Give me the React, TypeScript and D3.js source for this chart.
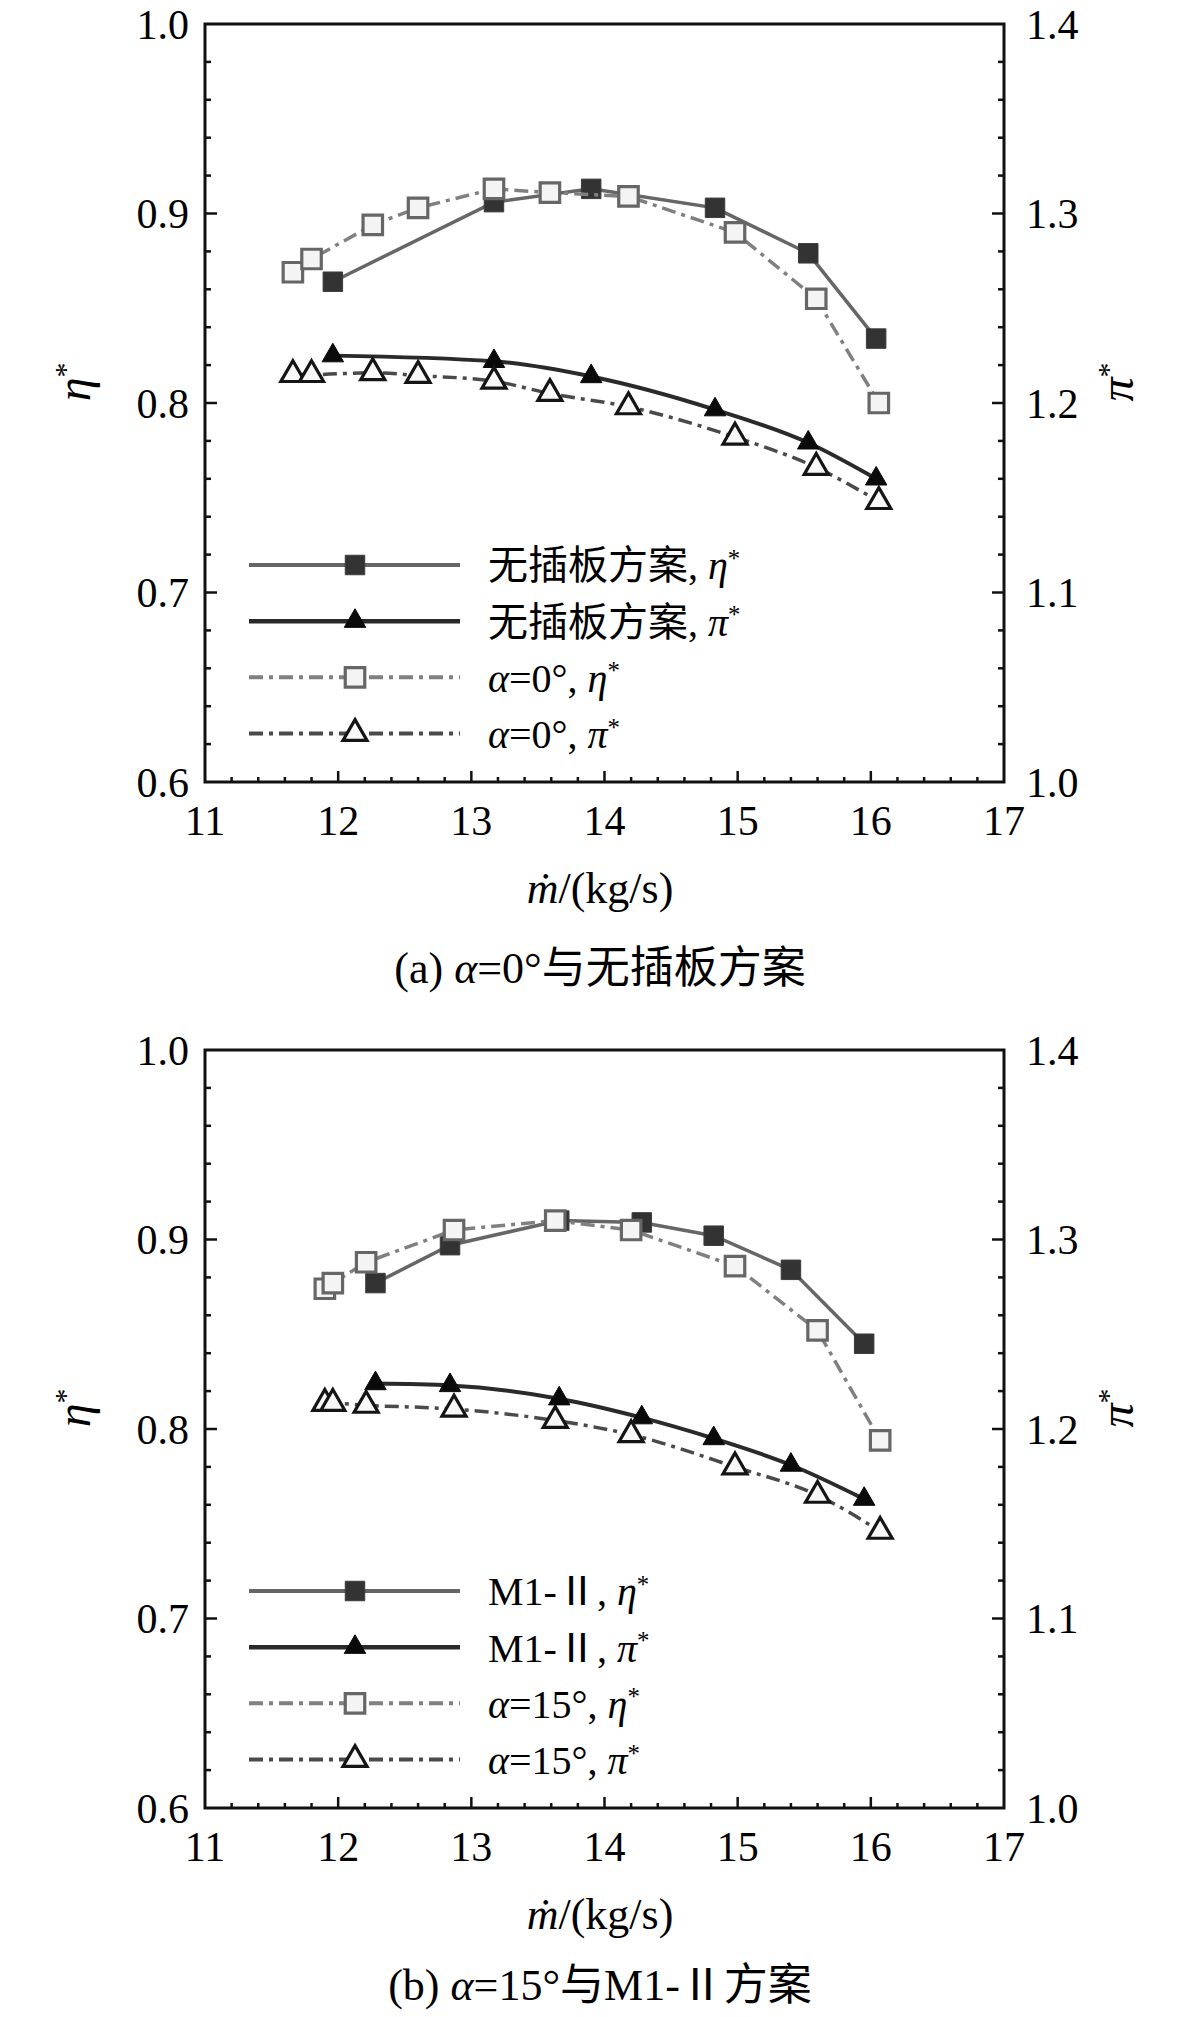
import React, { useEffect, useRef } from 'react';
import * as d3 from 'd3';

// ---- panel (a): alpha = 0 deg vs. no-plate scheme ----
const aBaseX = [11.96, 13.17, 13.9, 14.83, 15.53, 16.04];
const aBaseEta = [0.864, 0.906, 0.913, 0.903, 0.879, 0.834];
const aBasePi = [1.225, 1.222, 1.214, 1.1965, 1.179, 1.16];
const aPlateX = [11.66, 11.8, 12.26, 12.6, 13.17, 13.59, 14.18, 14.98, 15.59, 16.06];
const aPlateEta = [0.869, 0.876, 0.894, 0.903, 0.913, 0.911, 0.909, 0.89, 0.855, 0.8];
const aPlatePi = [1.215, 1.215, 1.216, 1.2145, 1.2115, 1.205, 1.198, 1.182, 1.166, 1.148];
const aLegend = ['无插板方案, η*', '无插板方案, π*', 'α=0°, η*', 'α=0°, π*'];
const aCaption = '(a) α=0°与无插板方案';

// ---- panel (b): alpha = 15 deg vs. M1-II scheme ----
const bBaseX = [12.28, 12.84, 13.66, 14.28, 14.82, 15.4, 15.95];
const bBaseEta = [0.877, 0.897, 0.91, 0.909, 0.902, 0.884, 0.845];
const bBasePi = [1.224, 1.223, 1.216, 1.206, 1.195, 1.181, 1.163];
const bPlateX = [11.9, 11.96, 12.21, 12.87, 13.63, 14.2, 14.98, 15.6, 16.07];
const bPlateEta = [0.874, 0.877, 0.888, 0.905, 0.91, 0.905, 0.886, 0.852, 0.794];
const bPlatePi = [1.2135, 1.2135, 1.2125, 1.2105, 1.2045, 1.197, 1.18, 1.165, 1.146];
const bLegend = ['M1-Ⅱ, η*', 'M1-Ⅱ, π*', 'α=15°, η*', 'α=15°, π*'];
const bCaption = '(b) α=15°与M1-Ⅱ方案';

const xTicks = [11, 12, 13, 14, 15, 16, 17];
const etaTicks = [0.6, 0.7, 0.8, 0.9, 1.0];
const piTicks = [1.0, 1.1, 1.2, 1.3, 1.4];
const xLabel = 'ṁ/(kg/s)';

const FONT = '"Liberation Serif", "Times New Roman", "Noto Sans CJK SC", serif';

type Sel = d3.Selection<SVGTextElement, unknown, null, undefined>;

// split a label into runs: greek letters italic, '*' as superscript
const richText = (t: Sel, s: string) => {
  const runs: { kind: string; str: string }[] = [];
  for (const ch of s) {
    const kind = /[αηπṁ]/.test(ch) ? 'it' : ch === '*' ? 'sup' : 'n';
    if (runs.length && runs[runs.length - 1].kind === kind) runs[runs.length - 1].str += ch;
    else runs.push({ kind, str: ch });
  }
  runs.forEach(r => {
    const ts = t.append('tspan').text(r.str);
    if (r.kind === 'it') ts.attr('font-style', 'italic');
    if (r.kind === 'sup') ts.attr('dy', '-0.5em').attr('font-size', '0.62em');
  });
};

const styles = [
  { stroke: '#666', width: 3.5, dash: null, axis: 'eta', sym: d3.symbolSquare, size: 380, fill: '#333', mStroke: '#3c3c3c', mWidth: 1 },
  { stroke: '#2a2a2a', width: 4, dash: null, axis: 'pi', sym: d3.symbolTriangle, size: 200, fill: '#0a0a0a', mStroke: '#0a0a0a', mWidth: 1 },
  { stroke: '#808080', width: 3.5, dash: '14 6 4 6', axis: 'eta', sym: d3.symbolSquare, size: 380, fill: '#f4f4f4', mStroke: '#666', mWidth: 3.2 },
  { stroke: '#4a4a4a', width: 3.5, dash: '14 6 4 6', axis: 'pi', sym: d3.symbolTriangle, size: 250, fill: '#f8f8f8', mStroke: '#151515', mWidth: 3.2 },
];

const App: React.FC = () => {
  const svgRef = useRef<SVGSVGElement>(null);

  useEffect(() => {
    if (!svgRef.current) return;
    const svg = d3.select(svgRef.current);
    svg.selectAll('*').remove();

    const left = 205;
    const right = 1004;
    const plotH = 758;

    const x = d3.scaleLinear().domain([11, 17]).range([left, right]);

    const drawPanel = (
      top: number,
      series: { xs: number[]; ys: number[] }[],
      legend: string[],
      caption: string,
      captionY: number,
    ) => {
      const g = svg.append('g');
      const bottom = top + plotH;
      const yEta = d3.scaleLinear().domain([0.6, 1.0]).range([bottom, top]);
      const yPi = d3.scaleLinear().domain([1.0, 1.4]).range([bottom, top]);

      // minor / major ticks (inward)
      const xMinor = d3.range(11.2, 16.9, 0.2);
      g.selectAll('.xt')
        .data(xMinor)
        .enter()
        .append('line')
        .attr('x1', d => x(d))
        .attr('x2', d => x(d))
        .attr('y1', bottom)
        .attr('y2', d => bottom - (Math.abs(d - Math.round(d)) < 0.01 ? 11 : 5))
        .attr('stroke', '#111')
        .attr('stroke-width', 2.5);

      const yMinor = d3.range(0.62, 0.99, 0.02);
      const isMajor = (d: number) => Math.abs(d * 10 - Math.round(d * 10)) < 0.01;
      g.selectAll('.yl')
        .data(yMinor)
        .enter()
        .append('line')
        .attr('x1', left)
        .attr('x2', d => left + (isMajor(d) ? 12 : 6))
        .attr('y1', d => yEta(d))
        .attr('y2', d => yEta(d))
        .attr('stroke', '#111')
        .attr('stroke-width', 2.5);
      g.selectAll('.yr')
        .data(yMinor)
        .enter()
        .append('line')
        .attr('x1', right)
        .attr('x2', d => right - (isMajor(d) ? 12 : 6))
        .attr('y1', d => yEta(d))
        .attr('y2', d => yEta(d))
        .attr('stroke', '#111')
        .attr('stroke-width', 2.5);

      // frame
      g.append('rect')
        .attr('x', left)
        .attr('y', top)
        .attr('width', right - left)
        .attr('height', plotH)
        .attr('fill', 'none')
        .attr('stroke', '#111')
        .attr('stroke-width', 3);

      // tick labels
      g.selectAll('.xl')
        .data(xTicks)
        .enter()
        .append('text')
        .attr('x', d => x(d))
        .attr('y', bottom + 53)
        .attr('text-anchor', 'middle')
        .attr('font-family', FONT)
        .attr('font-size', 42)
        .text(d => d);
      g.selectAll('.el')
        .data(etaTicks)
        .enter()
        .append('text')
        .attr('x', left - 16)
        .attr('y', d => yEta(d))
        .attr('dy', '0.35em')
        .attr('text-anchor', 'end')
        .attr('font-family', FONT)
        .attr('font-size', 42)
        .text(d => d3.format('.1f')(d));
      g.selectAll('.pl')
        .data(piTicks)
        .enter()
        .append('text')
        .attr('x', right + 22)
        .attr('y', d => yPi(d))
        .attr('dy', '0.35em')
        .attr('text-anchor', 'start')
        .attr('font-family', FONT)
        .attr('font-size', 42)
        .text(d => d3.format('.1f')(d));

      // axis titles
      const etaT = g
        .append('text')
        .attr('transform', `translate(90,${top + 358}) rotate(-90)`)
        .attr('text-anchor', 'middle')
        .attr('font-family', FONT)
        .attr('font-size', 48);
      richText(etaT, 'η*');
      const piT = g
        .append('text')
        .attr('transform', `translate(1133,${top + 358}) rotate(-90)`)
        .attr('text-anchor', 'middle')
        .attr('font-family', FONT)
        .attr('font-size', 48);
      richText(piT, 'π*');
      const xT = g
        .append('text')
        .attr('x', 600)
        .attr('y', top + 879)
        .attr('text-anchor', 'middle')
        .attr('font-family', FONT)
        .attr('font-size', 44);
      richText(xT, xLabel);
      const capT = g
        .append('text')
        .attr('x', 600)
        .attr('y', captionY)
        .attr('text-anchor', 'middle')
        .attr('font-family', FONT)
        .attr('font-size', 44);
      richText(capT, caption);

      // series
      series.forEach((s, i) => {
        const st = styles[i];
        const yS = st.axis === 'eta' ? yEta : yPi;
        const pts = s.xs.map((v, k) => [v, s.ys[k]] as [number, number]);
        const line = d3
          .line<[number, number]>()
          .x(d => x(d[0]))
          .y(d => yS(d[1]))
          .curve(st.axis === 'pi' ? d3.curveMonotoneX : d3.curveLinear);
        g.append('path')
          .datum(pts)
          .attr('d', line)
          .attr('fill', 'none')
          .attr('stroke', st.stroke)
          .attr('stroke-width', st.width)
          .attr('stroke-dasharray', st.dash);
        g.selectAll(`.m${i}`)
          .data(pts)
          .enter()
          .append('path')
          .attr('d', d3.symbol().type(st.sym).size(st.size)())
          .attr('transform', d => `translate(${x(d[0])},${yS(d[1])})`)
          .attr('fill', st.fill)
          .attr('stroke', st.mStroke)
          .attr('stroke-width', st.mWidth);
      });

      // legend
      const rowY = d3.scaleLinear().domain([0, 3]).range([top + 541, top + 709.5]);
      legend.forEach((lab, i) => {
        const st = styles[i];
        const yy = rowY(i);
        g.append('line')
          .attr('x1', 249)
          .attr('x2', 460)
          .attr('y1', yy)
          .attr('y2', yy)
          .attr('stroke', st.stroke)
          .attr('stroke-width', st.width + 0.5)
          .attr('stroke-dasharray', st.dash);
        g.append('path')
          .attr('d', d3.symbol().type(st.sym).size(st.size)())
          .attr('transform', `translate(355,${yy})`)
          .attr('fill', st.fill)
          .attr('stroke', st.mStroke)
          .attr('stroke-width', st.mWidth);
        const t = g
          .append('text')
          .attr('x', 488)
          .attr('y', yy)
          .attr('dy', '0.36em')
          .attr('font-family', FONT)
          .attr('font-size', 40);
        richText(t, lab);
      });
    };

    drawPanel(
      24,
      [
        { xs: aBaseX, ys: aBaseEta },
        { xs: aBaseX, ys: aBasePi },
        { xs: aPlateX, ys: aPlateEta },
        { xs: aPlateX, ys: aPlatePi },
      ],
      aLegend,
      aCaption,
      983,
    );
    drawPanel(
      1050,
      [
        { xs: bBaseX, ys: bBaseEta },
        { xs: bBaseX, ys: bBasePi },
        { xs: bPlateX, ys: bPlateEta },
        { xs: bPlateX, ys: bPlatePi },
      ],
      bLegend,
      bCaption,
      2000,
    );
  }, []);

  return (
    <svg
      ref={svgRef}
      width={1181}
      height={2017}
      style={{ position: 'absolute', left: 0, top: 0, background: '#fff' }}
    />
  );
};

export default App;
